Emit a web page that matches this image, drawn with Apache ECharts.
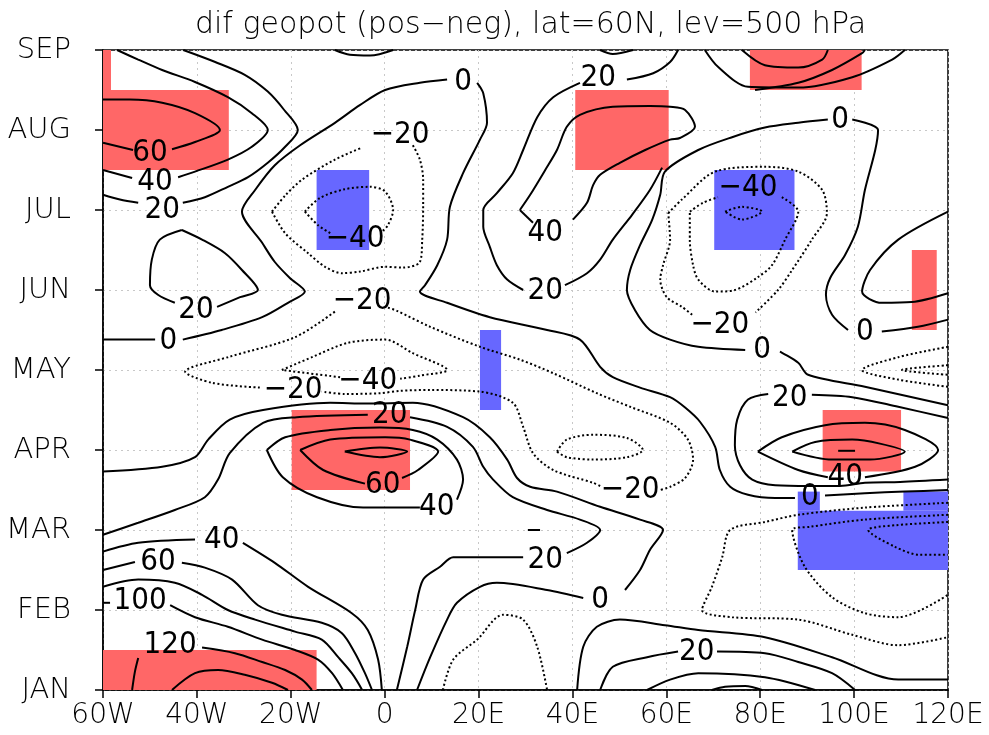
<!DOCTYPE html>
<html><head><meta charset="utf-8">
<script src="https://cdn.jsdelivr.net/npm/echarts@6/dist/echarts.min.js"></script>
<style>html,body{margin:0;padding:0;background:#fff}#c{width:989px;height:735px}</style>
</head><body><div id="c"></div>
<script>
const xTickLabels = ['60W','40W','20W','0','20E','40E','60E','80E','100E','120E'];
const yTickLabels = ['JAN','FEB','MAR','APR','MAY','JUN','JUL','AUG','SEP'];
const titleText = 'dif geopot (pos\u2212neg), lat=60N, lev=500 hPa';

// significance boxes [lon1, month1, lon2, month2]
const redBoxes = [[-60,6.5,-33.2,7.5],[-60,7.5,-58.3,8],[40.6,6.5,60.5,7.5],[77.8,7.5,101.6,8],[112.3,4.5,117.6,5.5],[-19.8,2.5,5.4,3.5],[93.3,2.73,110,3.5],[-60,0,-14.5,0.5]];
const blueBoxes = [[-14.5,5.5,-3.3,6.5],[70.2,5.5,87.3,6.5],[20.3,3.5,24.8,4.5],[88,1.5,120,2.24],[88,2.24,92.7,2.48],[110.5,2.24,120,2.48]];

// contour lines [lon, month]; null = break for a label
const c60_aug = [[-60,7.38],[-54.3,7.38],[-47.4,7.34],[-40.4,7.21],[-35.1,7.0],[-40.4,6.85],[-45.3,6.76],null,[-53.6,6.75],[-60,6.84]];
const c40_aug = [[-57,8],[-52.5,7.88],[-47.4,7.75],[-40.4,7.6],[-33.4,7.41],[-28.3,7.21],[-24.9,7.0],[-28.3,6.79],[-33.4,6.63],[-40.4,6.48],[-44.0,6.41],null,[-53.8,6.4],[-60,6.5]];
const c20_aug = [[-42.9,8],[-36.1,7.85],[-29.8,7.69],[-24.9,7.48],[-21.4,7.25],[-18.5,7.0],[-21.2,6.79],[-24.9,6.59],[-29.1,6.41],[-33.4,6.29],[-38.3,6.16],[-43.0,6.09],null,[-52.5,6.09],[-56.4,6.13],[-60,6.19]];
const c20_jun = [[-43.2,5.75],[-38.9,5.63],[-34.0,5.46],[-30.4,5.25],[-27.0,5.0],[-30.8,4.91],[-35.7,4.79],null,[-44.7,4.84],[-48.3,4.94],[-50.0,5.06],[-49.6,5.38],[-47.9,5.63],[-43.2,5.75]];
const c0_upper = [[-60,4.38],[-54.3,4.38],[-48.9,4.38],null,[-43.0,4.38],[-34.7,4.5],[-26.1,4.66],[-20.6,4.84],[-17.0,4.98],[-20.2,5.15],[-23.4,5.35],[-26.1,5.59],[-30.4,5.98],[-27.6,6.25],[-23.4,6.56],[-18.0,6.81],[-10.6,7.09],[-5.3,7.31],[0.1,7.5],[7.5,7.59],[13.3,7.63],null,[19.7,7.59],[21.0,7.46],[21.8,7.09],[20.3,6.88],[16.7,6.46],[13.9,6.04],[13.3,5.63],[11.2,5.31],[8.6,5.06],[7.5,4.98],[13.3,4.84],[22.4,4.66],[34.6,4.5],[41.6,4.38],[45.9,4.04],[48.6,3.91],[54.4,3.78],[60.8,3.66],[64.0,3.53],[67.2,3.35],[70.4,3.04],[71.4,2.75],[73.6,2.54],[77.4,2.44],[83.2,2.4],[87.4,2.4],null,[93.8,2.43],[102.3,2.46],[110.8,2.48],[120,2.5]];
const c0_lower = [[-60,2.73],[-47.4,2.79],[-40.4,2.91],[-37.6,3.13],[-33.0,3.38],[-25.9,3.5],[-11.6,3.59],[-3.8,3.58],[6.0,3.59],[16.7,3.41],[22.4,3.16],[26.1,2.88],[28.2,2.65],[31.0,2.54],[36.7,2.48],[45.9,2.29],[54.4,2.13],[59.3,2.0],[56.5,1.75],[54.4,1.5],[51.2,1.25],null,[42.3,1.15],[34.6,1.25],[23.9,1.34],[20.3,1.29],[15.4,1.09],[13.3,0.88],[9.7,0.41],[6.9,0]];
const c20_mid = [[-60,1.94],[-52.5,2.09],[-44.7,2.25],[-38.3,2.41],[-35.5,2.63],[-33.0,2.96],[-25.9,3.34],[-18.7,3.41],[-3.6,3.44],null,[5.4,3.41],[13.3,3.29],[18.8,3.04],[21.0,2.79],[23.1,2.63],[27.3,2.41],[34.6,2.25],[41.6,2.13],[45.9,2.0],[43.1,1.84],[38.8,1.71],null,[29.5,1.66],[14.6,1.66],[11.8,1.54],[8.2,1.38],[6.5,1.0],[4.8,0.54],[2.6,0]];
const c40_apr = [[-25.1,3.0],[-21.2,3.16],[-11.6,3.25],[-1.0,3.28],[6.0,3.25],[11.2,3.13],[15.4,2.88],[16.7,2.63],[15.4,2.38],null,[7.5,2.28],[-4.6,2.28],[-14.4,2.41],[-21.7,2.66],[-25.1,3.0]];
const c60_apr = [[-18.0,3.0],[-11.6,3.13],[0.1,3.16],[5.4,3.13],[11.4,2.98],[7.1,2.75],[3.7,2.65],null,[-4.2,2.58],[-13.1,2.75],[-18.0,3.0]];
const c80_apr = [[-8.5,2.98],[-1.0,3.03],[4.8,2.98],[-1.0,2.91],[-8.5,2.98]];
const c140_jan = [[-45.3,0],[-40.4,0.21],[-35.5,0.25],[-29.8,0.19],[-24.0,0.09],[-20.6,0]];
const c120_jan = [[-53.8,0],[-53.2,0.23],[-52.5,0.4],null,[-38.9,0.53],[-31.9,0.46],[-26.1,0.35],[-21.2,0.25],[-17.6,0.13],[-15.5,0]];
const c100_feb = [[-60,1.09],[-58.5,1.09],null,[-45.7,1.06],[-40.4,0.91],[-33.4,0.79],[-26.1,0.63],[-19.1,0.5],[-14.2,0.38],[-11.2,0.21],[-8.9,0]];
const c80_feb = [[-60,1.29],[-52.5,1.38],[-44.7,1.34],[-38.9,1.19],[-33.4,1.0],[-27.6,0.88],[-19.1,0.73],[-13.4,0.63],[-9.9,0.41],[-7.0,0.21],[-4.8,0]];
const c60_feb = [[-60,1.5],[-53.2,1.6],null,[-43.2,1.59],[-38.3,1.53],[-32.5,1.38],[-27.0,1.06],[-21.9,0.94],[-13.4,0.84],[-9.1,0.71],[-6.3,0.46],[-4.2,0.21],[-2.7,0]];
const c40_feb = [[-60,1.73],[-52.5,1.84],[-40.4,1.88],null,[-30.2,1.84],[-23.4,1.59],[-16.3,1.29],[-7.0,0.96],[-3.6,0.75],[-1.4,0.38],[-0.6,0]];
const cm20_jul = [[-24.0,5.98],[-21.2,6.18],[-17.6,6.38],[-10.6,6.63],[-4.8,6.78],null,[6.0,6.81],[7.5,6.63],[8.2,6.38],[8.2,6.04],[8.0,5.63],[7.5,5.35],[3.9,5.28],[0.1,5.29],[-5.3,5.23],[-9.1,5.21],[-12.7,5.29],[-16.3,5.46],[-21.2,5.71],[-24.0,5.98]];
const cm40_jul = [[-17.0,5.98],[-13.8,6.15],[-8.5,6.26],[-3.1,6.29],[0.1,6.23],[1.8,6.0],[0.7,5.81],[-0.6,5.73],null,[-11.6,5.71],[-14.2,5.81],[-17.0,5.98]];
const cm20_may = [[0.7,4.78],[2.6,4.74],[9.7,4.54],[20.3,4.29],[28.8,4.13],[35.9,3.96],[45.2,3.71],[52.3,3.54],[60.8,3.34],[64.6,3.13],[65.7,2.88],[64.0,2.65],[60.8,2.54],[58.7,2.5],null,[45.9,2.55],[44.4,2.59],[35.9,2.75],[31.6,2.96],[29.5,3.29],[27.3,3.59],[20.3,3.73],[9.7,3.75],[3.3,3.74],[-1.0,3.71],[-8.5,3.7],[-13.4,3.73],null,[-26.6,3.78],[-36.8,3.84],[-42.5,3.98],[-33.4,4.16],[-19.1,4.41],[-10.6,4.73]];
const cm40_may = [[-21.9,4.0],[-15.5,4.16],[-7.8,4.34],[0.1,4.38],[6.0,4.21],[13.3,4.0],[7.5,3.93],[3.3,3.89],null,[-9.5,3.91],[-21.9,4.0]];
const cm40_apr = [[36.7,2.98],[38.8,3.13],[44.4,3.19],[51.6,3.15],[55.0,3.0],[51.6,2.91],[44.4,2.88],[38.8,2.91],[36.7,2.98]];
const cm20_jan = [[12.4,0],[14.6,0.38],[19.7,0.63],[25.2,0.94],[29.5,0.88],[32.5,0.54],[34.6,0]];
const c_dash_mar = [[30.5,2.0],[33.1,2.0]];
const c40_aug2 = [[28.8,6.0],[31.0,6.19],[34.2,6.5],[36.7,6.75],[38.8,7.04],[41.6,7.19],[48.6,7.29],[56.5,7.3],[60.8,7.29],[64.0,7.25],[66.1,7.04],[62.9,6.9],[60.8,6.88],[55.5,6.75],[50.1,6.59],[45.9,6.44],[44.4,6.31],[43.1,6.09],[40.1,5.88],null,[31.6,5.84],[28.8,6.0]];
const c20_jul = [[62.5,8],[60.8,7.85],[57.2,7.71],[51.6,7.63],null,[41.6,7.59],[35.9,7.41],[32.5,7.16],[29.5,6.75],[27.3,6.46],[23.9,6.21],[21.0,6.0],[21.0,5.79],[22.4,5.54],[23.9,5.31],[26.1,5.13],[29.5,5.0],null,[38.4,5.06],[43.1,5.21],[45.9,5.38],[48.6,5.63],[52.7,5.94],[56.5,6.25],[59.1,6.53]];
const c0_right = [[120,3.56],[102.3,3.79],[90.2,3.94],[88.1,4.09],[84.2,4.23],null,[76.8,4.25],[66.8,4.29],[60.8,4.38],[56.5,4.5],[53.3,4.75],[51.6,5.0],[52.3,5.25],[54.4,5.56],[57.0,5.88],[58.7,6.19],[59.7,6.48],[66.8,6.75],[74.0,6.91],[81.0,7.03],[88.1,7.09],[94.4,7.13],null,[99.6,7.13],[105.1,7.0],[104.5,6.75],[102.3,6.25],[100.8,5.79],[98.1,5.44],[94.9,5.15],[94.0,4.94],[95.3,4.69],[98.7,4.5],null,[105.9,4.48],[113.6,4.54],[120,4.63]];
const c_top1 = [[-10.6,8],[-7.4,7.94],[-3.1,7.93],[1.8,8]];
const c_top2 = [[45.9,8],[48.6,7.95],[52.9,8]];
const c_tr1 = [[68.2,8],[71.0,7.79],[77.4,7.54],[88.1,7.53],[99.6,7.66],[108.1,7.88],[110.8,8]];
const c_tr2 = [[76.1,8],[81.0,7.81],[88.1,7.78],[93.2,7.88],[94.4,8]];
const c_tr3 = [[78.9,7.5],[88.1,7.59],[95.3,7.75],[101.7,7.96],[102.3,8]];
const cm20_jul2 = [[60.4,5.96],[63.3,6.13],[70.4,6.48],[81.0,6.54],[88.1,6.48],[93.2,6.25],[94.2,5.96],[91.0,5.63],[86.8,5.25],[83.8,5.0],[79.0,4.72],null,[65.5,4.69],[63.3,4.79],[60.1,4.91],[58.7,5.13],[59.3,5.31],[60.8,5.63],[60.4,5.96]];
const cm40_jul2 = [[65.0,5.98],[67.8,6.09],[71.0,6.16],null,[84.6,6.16],[88.1,5.98],[85.3,5.63],[82.5,5.31],[79.5,5.16],[74.6,5.0],[70.4,4.98],[66.8,5.13],[65.7,5.31],[65.0,5.63],[65.0,5.98]];
const cm60_jul2 = [[72.5,5.98],[76.1,6.04],[80.4,5.98],[76.1,5.88],[72.5,5.98]];
const c20_jun2 = [[120,5.98],[109.4,5.63],[103.4,5.25],[101.7,4.98],[105.9,4.84],[112.3,4.85],[120,4.96]];
const cm20_may2 = [[120,4.29],[109.4,4.16],[101.7,4.0],[109.4,3.88],[120,3.79]];
const cm40_may2 = [[120,4.06],[110.2,4.0],[120,3.94]];
const c20_apr2 = [[120,3.4],[109.4,3.54],[99.6,3.66],[91.0,3.69],null,[81.7,3.7],[77.4,3.63],[75.1,3.38],[74.6,3.06],[75.7,2.81],[78.3,2.63],[83.2,2.56],[90.6,2.55],[97.0,2.55],[102.3,2.59],[109.8,2.6],[120,2.63]];
const c40_apr2 = [[79.5,2.98],[84.6,3.16],[93.8,3.31],[102.3,3.34],[110.8,3.25],[117.9,3.0],[113.0,2.79],[102.3,2.66],null,[94.4,2.66],[88.1,2.75],[79.5,2.98]];
const c60_apr2 = [[86.8,2.98],[91.7,3.1],[99.6,3.13],[105.5,3.08],[110.8,2.98],[103.4,2.88],[95.3,2.88],[86.8,2.98]];
const c80_apr2 = [[96.6,2.99],[100.2,2.99]];
const cm20_mar = [[120,2.34],[102.3,2.28],[88.1,2.19],[81.0,2.1],[73.6,2.0],[71.9,1.66],[69.7,1.29],[67.6,1.0],[74.0,0.91],[88.1,0.88],[99.6,0.69],[109.4,0.56],[120,0.66]];
const cm40_mar = [[120,2.19],[102.3,2.13],[90.6,2.04],[86.8,2.0],[89.5,1.54],[95.3,1.16],[102.3,0.96],[109.4,0.91],[120,1.19]];
const cm60_mar = [[120,2.1],[108.9,2.06],[103.0,2.0],[108.7,1.79],[114.0,1.69],[120,1.69]];
const c0_jan = [[41.0,0],[42.3,0.54],[45.2,0.79],[50.1,0.88],[59.7,0.81],[66.8,0.75],[81.0,0.66],[95.3,0.41],[109.4,0.13],[120,0.13]];
const c20_jan = [[45.9,0],[48.6,0.29],[55.9,0.41],[62.5,0.48],null,[70.8,0.48],[81.0,0.46],[88.1,0.35],[95.3,0.21],[100.2,0]];
const c40_jan = [[55.9,0],[60.8,0.13],[66.8,0.21],[81.0,0.16],[91.7,0]];
const c60_jan = [[69.7,0],[72.5,0.04],[76.8,0.05],[80.4,0]];

const contourLabels = [
 [-50.0,6.71,'60'],[-48.9,6.35,'40'],[-47.4,6.0,'20'],[3.3,6.94,'\u221220'],[-6.3,5.64,'\u221240'],
 [16.7,7.6,'0'],[45.5,7.65,'20'],[34.2,5.71,'40'],[34.2,4.99,'20'],[77.4,6.28,'\u221240'],[97.0,7.13,'0'],
 [-40.2,4.75,'20'],[-46.1,4.36,'0'],[-4.8,4.86,'\u221220'],[71.4,4.56,'\u221220'],[102.3,4.48,'0'],[80.4,4.25,'0'],
 [-19.5,3.75,'\u221220'],[-3.6,3.86,'\u221240'],[1.1,3.44,'20'],[86.3,3.65,'20'],[-0.4,2.56,'60'],[11.1,2.29,'40'],
 [52.3,2.5,'\u221220'],[98.1,2.66,'40'],[90.6,2.41,'0'],[-34.7,1.88,'40'],[34.2,1.63,'20'],[-48.3,1.6,'60'],
 [-52.1,1.11,'100'],[45.9,1.13,'0'],[-45.7,0.56,'120'],[66.5,0.48,'20']
];

const contours = [
 [60,c60_aug],[40,c40_aug],[20,c20_aug],[20,c20_jun],[0,c0_upper],[0,c0_lower],[20,c20_mid],[40,c40_apr],[60,c60_apr],[80,c80_apr],
 [140,c140_jan],[120,c120_jan],[100,c100_feb],[80,c80_feb],[60,c60_feb],[40,c40_feb],
 [-20,cm20_jul],[-40,cm40_jul],[-20,cm20_may],[-40,cm40_may],[-40,cm40_apr],[-20,cm20_jan],[20,c_dash_mar],
 [40,c40_aug2],[20,c20_jul],[0,c0_right],[0,c_top1],[20,c_top2],[20,c_tr1],[40,c_tr2],[60,c_tr3],
 [-20,cm20_jul2],[-40,cm40_jul2],[-60,cm60_jul2],[20,c20_jun2],[-20,cm20_may2],[-40,cm40_may2],
 [20,c20_apr2],[40,c40_apr2],[60,c60_apr2],[80,c80_apr2],[-20,cm20_mar],[-40,cm40_mar],[-60,cm60_mar],
 [0,c0_jan],[20,c20_jan],[40,c40_jan],[60,c60_jan]
];

const FONT = "'DejaVu Sans', sans-serif";
const LFONT = "'DejaVu Sans Condensed','DejaVu Sans',sans-serif";
const WEIGHT = 200;
function segs(pts){const out=[];let cur=[];pts.forEach(p=>{if(p===null){if(cur.length)out.push(cur);cur=[];}else cur.push(p);});if(cur.length)out.push(cur);return out;}
function boxSeries(data,color){
  return {type:'custom',silent:true,z:1,clip:true,data:data,encode:{x:[0,2],y:[1,3]},
    renderItem:function(params,api){
      const p1=api.coord([api.value(0),api.value(1)]);const p2=api.coord([api.value(2),api.value(3)]);
      return {type:'rect',shape:{x:Math.min(p1[0],p2[0]),y:Math.min(p1[1],p2[1]),width:Math.abs(p2[0]-p1[0]),height:Math.abs(p2[1]-p1[1])},style:{fill:color}};
    }};
}
const series=[boxSeries(redBoxes,'#ff6767'),boxSeries(blueBoxes,'#6767ff')];
contours.forEach(([lev,pts])=>{
  segs(pts).forEach(s=>series.push({type:'line',data:s,symbol:'none',showSymbol:false,smooth:0.3,silent:true,z:3,clip:true,
    lineStyle:{color:'#000',width:2,type:lev<0?[2,2.5]:'solid'}}));
});
series.push({type:'scatter',data:contourLabels,symbolSize:1,itemStyle:{color:'rgba(0,0,0,0)',opacity:1},silent:true,z:5,
  label:{show:true,position:'inside',formatter:p=>p.data[2],color:'#000',opacity:1,fontSize:31,fontWeight:WEIGHT,fontFamily:LFONT,textBorderWidth:0}});

const chart=echarts.init(document.getElementById('c'),null,{renderer:'canvas'});
chart.setOption({
  animation:false,backgroundColor:'#fff',
  title:{text:titleText,left:525.5,top:5,textAlign:'center',textStyle:{fontFamily:FONT,fontWeight:WEIGHT,fontSize:30,color:'#000'}},
  grid:{left:103,right:41,top:50,bottom:45,show:true,borderColor:'#000',borderWidth:1.5,backgroundColor:'transparent'},
  xAxis:{type:'value',min:-60,max:120,interval:20,
    axisLine:{show:true,onZero:false,lineStyle:{color:'#000',width:1.5}},
    axisTick:{show:true,inside:false,length:8,lineStyle:{color:'#000',width:1.5}},
    axisLabel:{margin:12,color:'#000',fontSize:28,fontWeight:WEIGHT,fontFamily:FONT,formatter:v=>xTickLabels[Math.round((v+60)/20)]},
    splitLine:{show:true,lineStyle:{color:'#c8c8c8',type:[2,4],width:1}}},
  yAxis:{type:'value',min:0,max:8,interval:1,
    axisLine:{show:true,onZero:false,lineStyle:{color:'#000',width:1.5}},
    axisTick:{show:true,inside:false,length:8,lineStyle:{color:'#000',width:1.5}},
    axisLabel:{margin:32,color:'#000',fontSize:29,fontWeight:WEIGHT,fontFamily:FONT,formatter:v=>yTickLabels[Math.round(v)]},
    splitLine:{show:true,lineStyle:{color:'#c8c8c8',type:[2,4],width:1}}},
  series:series
});
</script></body></html>
